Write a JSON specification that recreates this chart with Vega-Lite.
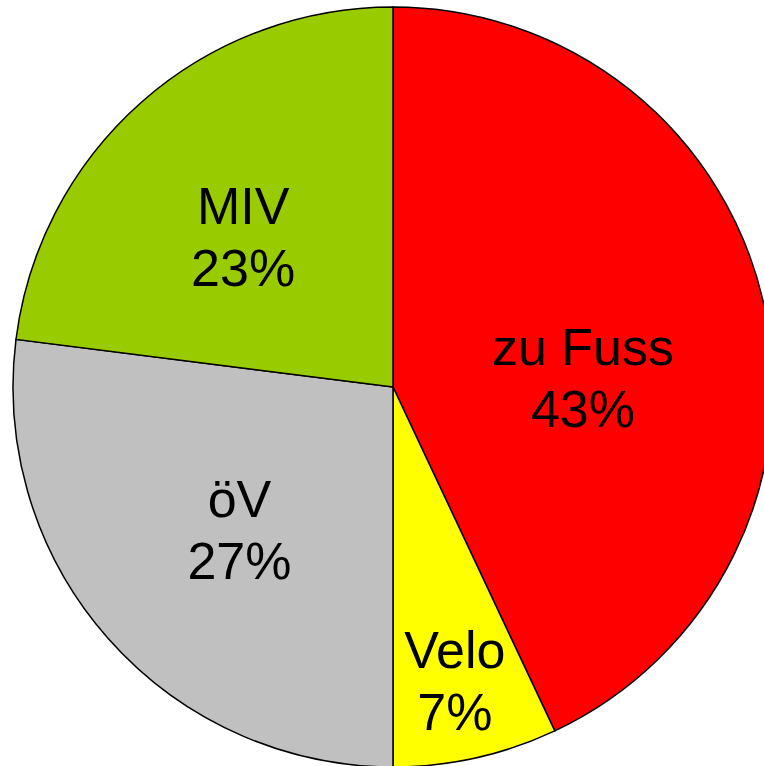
{
  "$schema": "https://vega.github.io/schema/vega-lite/v6.json",
  "width": 764,
  "height": 766,
  "autosize": {"type": "fit", "contains": "padding"},
  "padding": {"left": 22, "top": 8, "right": 0, "bottom": 0},
  "background": "white",
  "config": {"view": {"stroke": null}},
  "data": {
    "values": [
      {"mode": "zu Fuss", "share": 0.43, "rank": 1},
      {"mode": "Velo", "share": 0.07, "rank": 2},
      {"mode": "öV", "share": 0.27, "rank": 3},
      {"mode": "MIV", "share": 0.23, "rank": 4}
    ]
  },
  "encoding": {
    "theta": {"field": "share", "type": "quantitative", "stack": true},
    "order": {"field": "rank", "type": "quantitative"}
  },
  "layer": [
    {
      "mark": {"type": "arc", "outerRadius": 380, "stroke": "black", "strokeWidth": 1.5},
      "encoding": {
        "color": {
          "field": "mode",
          "type": "nominal",
          "scale": {"domain": ["zu Fuss", "Velo", "öV", "MIV"], "range": ["#FF0000", "#FFFF00", "#C0C0C0", "#99CC00"]},
          "legend": null
        }
      }
    },
    {
      "mark": {
        "type": "text",
        "radius": 210,
        "font": "Liberation Sans",
        "fontSize": 52,
        "color": "black",
        "align": "center",
        "baseline": "middle",
        "dx": {"expr": "({'zu Fuss': -15, 'Velo': 16, 'öV': 4, 'MIV': -11})[datum.mode]"},
        "dy": {"expr": "({'zu Fuss': 39, 'Velo': 91, 'öV': 6, 'MIV': 10})[datum.mode] - 31"}
      },
      "encoding": {"text": {"field": "mode", "type": "nominal"}}
    },
    {
      "mark": {
        "type": "text",
        "radius": 210,
        "font": "Liberation Sans",
        "fontSize": 52,
        "color": "black",
        "align": "center",
        "baseline": "middle",
        "dx": {"expr": "({'zu Fuss': -15, 'Velo': 16, 'öV': 4, 'MIV': -11})[datum.mode]"},
        "dy": {"expr": "({'zu Fuss': 39, 'Velo': 91, 'öV': 6, 'MIV': 10})[datum.mode] + 31"}
      },
      "encoding": {"text": {"field": "share", "type": "quantitative", "format": ".0%"}}
    }
  ]
}
